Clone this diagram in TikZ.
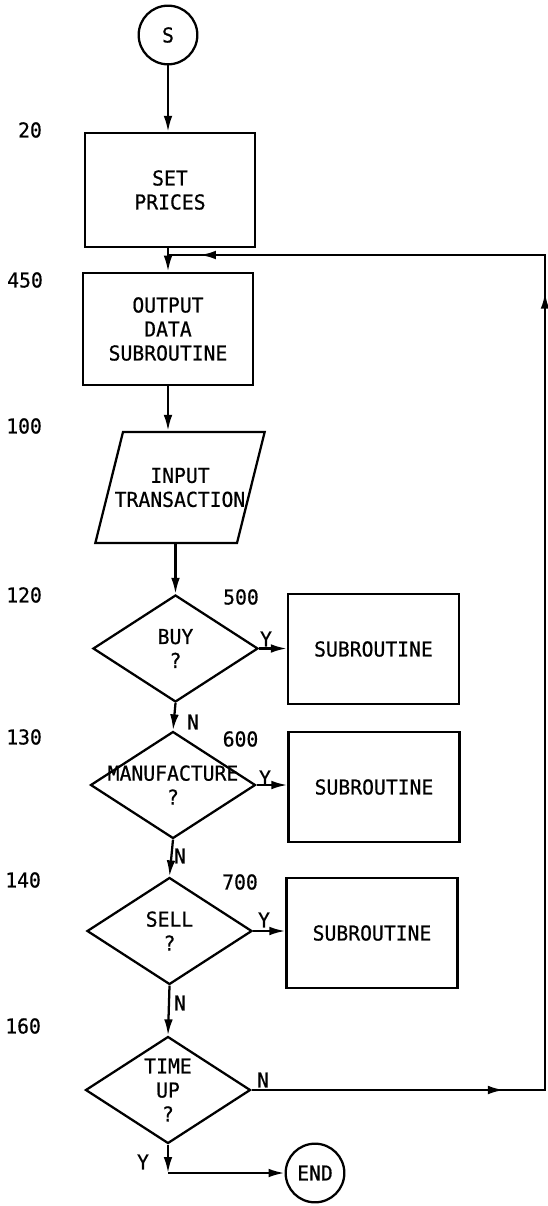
\documentclass[tikz,border=0pt]{standalone}
\usepackage{fontspec}
\setmainfont[FakeStretch=0.96,FakeBold=0.6]{DejaVu Sans Mono}
\usetikzlibrary{shapes.geometric,arrows.meta,decorations.markings}

\tikzset{
  proc/.style={draw, rectangle, minimum width=127.5pt, minimum height=84.5pt, align=center},
  subr/.style={draw, rectangle, minimum width=128.25pt, minimum height=82.5pt},
  ask/.style={draw, diamond, minimum width=123.75pt, minimum height=80.25pt, inner sep=0pt},
  term/.style={draw, circle, minimum size=44pt, inner sep=0pt},
  inbox/.style={draw, trapezium, trapezium left angle=76, trapezium right angle=104, inner xsep=42.75pt, inner ysep=41.6pt},
  num/.style={anchor=east, inner sep=0pt},
  tag/.style={inner sep=0pt}
}

\begin{document}
\begin{tikzpicture}[x=0.75pt,y=0.75pt,yscale=-1,xscale=1, line width=1.7pt, >={Latex[length=12pt,width=6.5pt]}, font=\fontsize{15.4pt}{18pt}\selectfont]
        \useasboundingbox (0,0) rectangle (548,1206);

        \node[term] (start) at (168,35) {S};
        \node[proc, minimum height=85.5pt] (setp) at (170,190) {SET\\PRICES};
        \node[proc] (outp) at (168,329) {OUTPUT\\DATA\\SUBROUTINE};
        \node[inbox, label={[align=center]center:{INPUT\\TRANSACTION}}] (inp) at (180,487.5) {};
        \node[ask, label={[align=center]center:{BUY\\?}}] (buy) at (175.5,648.5) {};
        \node[ask, label={[align=center]center:{MANUFACTURE\\?}}] (manu) at (173,785) {};
        \node[ask, label={[align=center]center:{SELL\\?}}] (sell) at (169.5,931) {};
        \node[ask, label={[align=center]center:{TIME\\UP\\?}}] (time) at (168,1090) {};
        \node[subr] (sub1) at (373.5,649) {SUBROUTINE};
        \node[subr] (sub2) at (374,787) {SUBROUTINE};
        \node[subr] (sub3) at (372,933) {SUBROUTINE};
        \node[term] (endc) at (315,1173) {END};

        \node[num] (n20) at (43,130) {20};
        \node[num] (n450) at (44,280) {450};
        \node[num] (n100) at (43,426) {100};
        \node[num] (n120) at (43,595) {120};
        \node[num] (n130) at (43,737) {130};
        \node[num] (n140) at (42,880) {140};
        \node[num] (n160) at (42,1026) {160};
        \node[tag] (n500) at (241,597) {500};
        \node[tag] (n600) at (240.5,739) {600};
        \node[tag] (n700) at (240,882) {700};

        \node[tag] (ybuy) at (266,639) {Y};
        \node[tag] (nbuy) at (193,722) {N};
        \node[tag] (ymanu) at (265,778) {Y};
        \node[tag] (nmanu) at (180,856) {N};
        \node[tag] (ysell) at (264,920) {Y};
        \node[tag] (nsell) at (180,1003) {N};
        \node[tag] (ntime) at (263,1080) {N};
        \node[tag] (ytime) at (143,1162) {Y};

        \coordinate (rbot) at (545,1090);
        \coordinate (rtop) at (545,255);
        \coordinate (join) at (outp.north |- rtop);
        \coordinate (ycorn) at (time.south |- endc.west);

        \draw[->] (start.south) -- (start.south |- setp.north);
        \draw[->] (outp.north |- setp.south) -- (outp.north);
        \draw[->] (outp.south) -- (outp.south |- inp.north);
        \draw[->] (inp.south -| buy.north) -- (buy.north);
        \draw[->] (buy.south) -- (manu.north);
        \draw[->] (manu.south) -- (sell.north);
        \draw[->] (sell.south) -- (time.north);
        \draw[->] (buy.east) -- (buy.east -| sub1.west);
        \draw[->] (manu.east) -- (manu.east -| sub2.west);
        \draw[->] (sell.east) -- (sell.east -| sub3.west);
        \draw[->] (time.south) -- (ycorn);
        \draw[->] (ycorn) -- (endc.west);
        \draw[postaction={decorate}, decoration={markings,
            mark=at position 0.1676 with {\arrow{>}},
            mark=at position 0.7245 with {\arrow{>}},
            mark=at position 0.9788 with {\arrow{>}}}]
            (time.east) -- (rbot) -- (rtop) -- (join);

\end{tikzpicture}
\end{document}
